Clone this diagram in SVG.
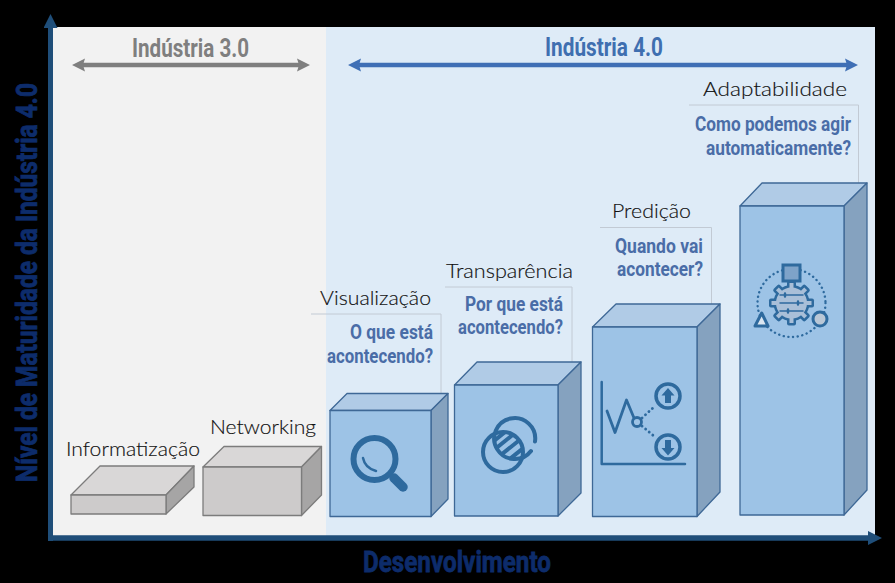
<svg xmlns="http://www.w3.org/2000/svg" width="895" height="583" viewBox="0 0 895 583">
<style>
.cond{font-family:"Roboto","Liberation Sans",sans-serif;font-weight:700}
.era{font-size:25px}
.q{font-size:20px;fill:#4a6da7;text-anchor:end}
.name{font-family:"Lato","Open Sans",sans-serif;font-weight:300;font-size:20px;fill:#111;stroke:#111;stroke-width:.15}
.ax{font-size:29px;fill:#0d2c6b;stroke:#0d2c6b;stroke-width:.8}
.call{fill:none;stroke:#c2cad4;stroke-width:1}
.box{stroke-width:1.300;stroke-linejoin:round}
.g .box{stroke:#7c7c7c}
.b .box{stroke:#3e6896}
.g .f{fill:#cdcbcb}.g .t{fill:#d9d7d7}.g .s{fill:#a6a5a5}
.b .f{fill:#9dc3e6}.b .t{fill:#b0cbe6}.b .s{fill:#85a2bf}
.i{fill:none;stroke:#2e6a9e;stroke-linecap:round;stroke-linejoin:round}
.d{stroke-dasharray:.1 4.6;stroke-width:2.200}
</style>
<defs>
<marker id="hg" markerUnits="userSpaceOnUse" markerWidth="14" markerHeight="14" refX="2" refY="7" orient="auto-start-reverse"><path d="M0 0.500L13 7L0 13.500L2 7Z" fill="#7f7f7f"/></marker>
<marker id="hb" markerUnits="userSpaceOnUse" markerWidth="14" markerHeight="14" refX="2" refY="7" orient="auto-start-reverse"><path d="M0 0.500L13 7L0 13.500L2 7Z" fill="#3f6fb5"/></marker>
<marker id="ha" markerUnits="userSpaceOnUse" markerWidth="14" markerHeight="14" refX="0" refY="7" orient="auto"><path d="M0 0L14 7L0 14Z" fill="#1f4e79"/></marker>
<clipPath id="c1"><circle cx="503" cy="452" r="20"/></clipPath>
<clipPath id="c2"><circle cx="515" cy="440" r="20"/></clipPath>
</defs>
<rect width="895" height="583" fill="#000"/>
<rect x="53" y="27" width="273" height="509" fill="#f2f2f2"/>
<rect x="326" y="27" width="549" height="509" fill="#deebf7"/>

<g id="connectors" fill="none">
<path d="M83 65H299" stroke="#7f7f7f" stroke-width="4.500" marker-start="url(#hg)" marker-end="url(#hg)"/>
<path d="M359 65H847" stroke="#3f6fb5" stroke-width="4.500" marker-start="url(#hb)" marker-end="url(#hb)"/>
<path d="M50.500 541V28" stroke="#1f4e79" stroke-width="5" marker-end="url(#ha)"/>
<path d="M48 538H868" stroke="#1f4e79" stroke-width="5.500" marker-end="url(#ha)"/>
</g>

<text class="cond ax" x="37" y="482" transform="rotate(-90 37 482)" textLength="399" lengthAdjust="spacingAndGlyphs">Nível de Maturidade da Indústria 4.0</text>
<text class="cond ax" x="363" y="572" textLength="188" lengthAdjust="spacingAndGlyphs">Desenvolvimento</text>
<text class="cond era" x="132" y="57" fill="#7f7f7f" textLength="117" lengthAdjust="spacingAndGlyphs">Indústria 3.0</text>
<text class="cond era" x="545" y="56" fill="#3f6fb0" textLength="118" lengthAdjust="spacingAndGlyphs">Indústria 4.0</text>

<g id="node-informatizacao" class="g">
<path class="box t" d="M71 495L100 466H194L166 495Z"/><path class="box s" d="M166 495L194 466V487L166 514Z"/><path class="box f" d="M71 495H166V514H71Z"/>
<text class="name" x="66" y="456" textLength="134" lengthAdjust="spacingAndGlyphs">Informatização</text>
</g>
<g id="node-networking" class="g">
<path class="box t" d="M203 467L224 446.500H321.500L301.500 467Z"/><path class="box s" d="M301.500 467L321.500 446.500V495L301.500 515.500Z"/><path class="box f" d="M203 467H301.500V515.500H203Z"/>
<text class="name" x="210" y="434" textLength="106" lengthAdjust="spacingAndGlyphs">Networking</text>
</g>
<g id="node-visualizacao" class="b">
<path class="call" d="M311 314H441V393.500"/>
<path class="box t" d="M330 410.500L347 393.500H448L431 410.500Z"/><path class="box s" d="M431 410.500L448 393.500V499L431 516.500Z"/><path class="box f" d="M330 410.500H431V516.500H330Z"/>
<text class="name" x="320" y="305" textLength="111" lengthAdjust="spacingAndGlyphs">Visualização</text>
<text class="cond q" x="433" y="339" textLength="83" lengthAdjust="spacingAndGlyphs">O que está</text>
<text class="cond q" x="433" y="363" textLength="106" lengthAdjust="spacingAndGlyphs">acontecendo?</text>
<circle class="i" cx="374.500" cy="459" r="21" stroke-width="6"/>
<path class="i" d="M394 478L403 487" stroke-width="9.500"/>
<path class="i" d="M363 458Q365 468 376 471" stroke-width="2.500"/>
</g>
<g id="node-transparencia" class="b">
<path class="call" d="M445 287H572V362"/>
<path class="box t" d="M454.500 385L477 362H581L558 385Z"/><path class="box s" d="M558 385L581 362V493L558 516Z"/><path class="box f" d="M454.500 385H558V516H454.500Z"/>
<text class="name" x="446" y="278" textLength="127" lengthAdjust="spacingAndGlyphs">Transparência</text>
<text class="cond q" x="563" y="311" textLength="98" lengthAdjust="spacingAndGlyphs">Por que está</text>
<text class="cond q" x="563" y="334" textLength="105" lengthAdjust="spacingAndGlyphs">acontecendo?</text>
<g clip-path="url(#c1)"><g clip-path="url(#c2)">
<path class="i" d="M494 441L510 428M494 450L521 428M497 458L527 434M506 462L531 442" stroke-width="4" style="stroke-linecap:butt"/>
</g></g>
<circle class="i" cx="503" cy="452" r="20" stroke-width="4"/>
<path class="i" d="M535 441.500A20.500 20.500 0 1 0 531 451" stroke-width="4"/>
</g>
<g id="node-predicao" class="b">
<path class="call" d="M600 227.500H711.500V304"/>
<path class="box t" d="M592.500 327L616 304H720L697 327Z"/><path class="box s" d="M697 327L720 304V492L697 516.500Z"/><path class="box f" d="M592.500 327H697V516.500H592.500Z"/>
<text class="name" x="612" y="218" textLength="79" lengthAdjust="spacingAndGlyphs">Predição</text>
<text class="cond q" x="703" y="253" textLength="88" lengthAdjust="spacingAndGlyphs">Quando vai</text>
<text class="cond q" x="703" y="276" textLength="86" lengthAdjust="spacingAndGlyphs">acontecer?</text>
<path class="i" d="M601.700 382V464H685" stroke-width="2.500"/>
<path class="i" d="M607 411L615 432.500L626.500 400L634 418" stroke-width="2.800"/>
<circle class="i" cx="637" cy="422" r="4.500" stroke-width="2.800"/>
<path class="i d" d="M642 418L655 406M642 426L655 437" style="stroke-width:2.800"/>
<circle class="i" cx="668" cy="396" r="12" stroke-width="3.500"/>
<path d="M668 388L661.500 395.500H665V403H671V395.500H674.500Z" fill="#2e6a9e"/>
<circle class="i" cx="668" cy="447" r="12" stroke-width="3.500"/>
<path d="M668 455.500L661.500 448H665V440H671V448H674.500Z" fill="#2e6a9e"/>
</g>
<g id="node-adaptabilidade" class="b">
<path class="call" d="M689 105H858.500V183"/>
<path class="box t" d="M740 206L762 183H867L844 206Z"/><path class="box s" d="M844 206L867 183V490L844 515Z"/><path class="box f" d="M740 206H844V515H740Z"/>
<text class="name" x="703" y="96" textLength="144" lengthAdjust="spacingAndGlyphs">Adaptabilidade</text>
<text class="cond q" x="851" y="131" textLength="156" lengthAdjust="spacingAndGlyphs">Como podemos agir</text>
<text class="cond q" x="851" y="155" textLength="145" lengthAdjust="spacingAndGlyphs">automaticamente?</text>
<circle class="i d" cx="791.500" cy="303" r="34" style="stroke-width:2.400"/>
<g transform="translate(791.500 303)" fill="#2e6a9e">
<rect x="-4.500" y="-22.500" width="9" height="45" rx="2"/><rect x="-4.500" y="-22.500" width="9" height="45" rx="2" transform="rotate(45)"/><rect x="-4.500" y="-22.500" width="9" height="45" rx="2" transform="rotate(90)"/><rect x="-4.500" y="-22.500" width="9" height="45" rx="2" transform="rotate(135)"/>
<circle r="18"/>
<g fill="#a9bfd8"><rect x="-2" y="-20" width="4" height="40"/><rect x="-2" y="-20" width="4" height="40" transform="rotate(45)"/><rect x="-2" y="-20" width="4" height="40" transform="rotate(90)"/><rect x="-2" y="-20" width="4" height="40" transform="rotate(135)"/><circle r="15.500"/></g>
</g>
<path class="i" d="M780 295H803M780 303H803M780 311H803" stroke-width="1.500"/>
<path class="i" d="M785 293.500V296.500M798 301.500V304.500M788 309.500V312.500" stroke-width="2.400"/>
<rect x="783" y="265" width="17" height="16" fill="#7ea3c9" stroke="#2e6a9e" stroke-width="3"/>
<path d="M761.700 313L768 326H755Z" fill="#dbe6f1" stroke="#2e6a9e" stroke-width="3" stroke-linejoin="round"/>
<circle cx="820" cy="319" r="7" fill="#b9c7d6" stroke="#2e6a9e" stroke-width="3"/>
</g>
</svg>
